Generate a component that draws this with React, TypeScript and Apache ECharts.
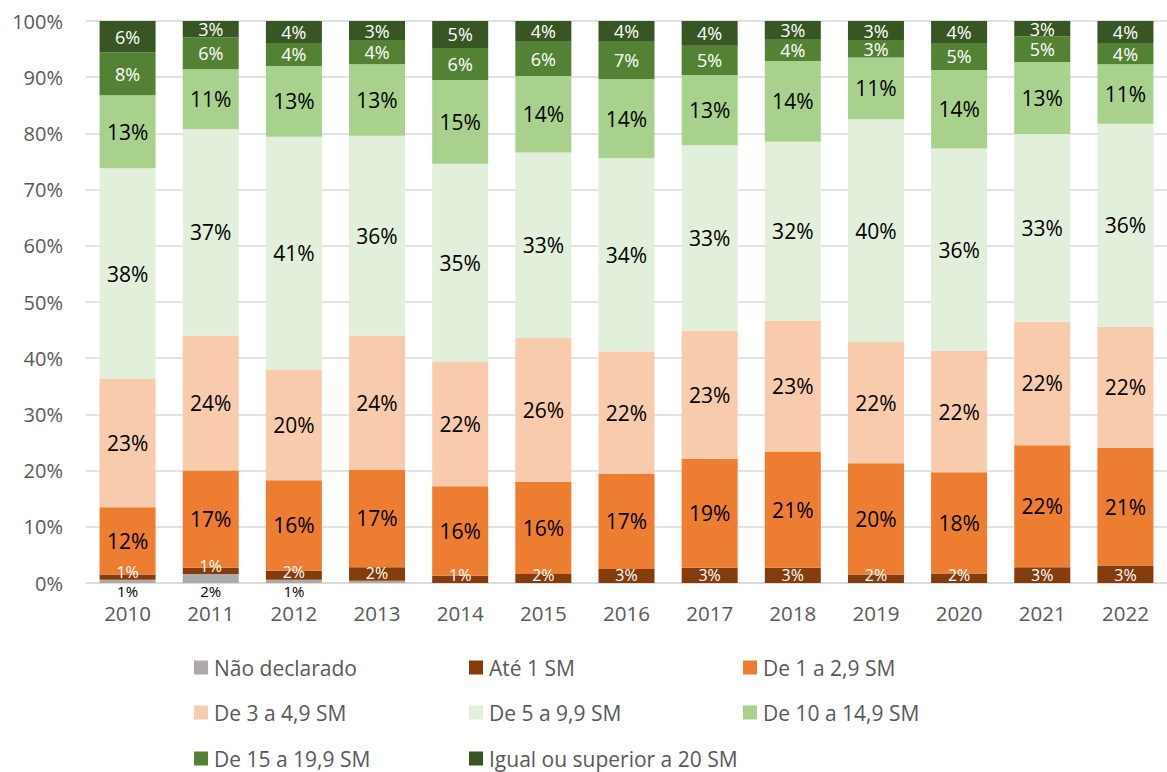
import React, { useEffect, useRef } from "react";
import * as echarts from "echarts";

const years = ["2010", "2011", "2012", "2013", "2014", "2015", "2016", "2017", "2018", "2019", "2020", "2021", "2022"];
const yTicks = [0, 10, 20, 30, 40, 50, 60, 70, 80, 90, 100];

const naoDeclarado = [0.6, 1.6, 0.6, 0.4, 0, 0, 0, 0, 0, 0, 0, 0, 0];
const ate1 = [0.9, 1.1, 1.6, 2.4, 1.3, 1.6, 2.5, 2.7, 2.7, 1.5, 1.7, 2.8, 3.1];
const de1a29 = [12.0, 17.3, 16.1, 17.4, 15.9, 16.4, 16.9, 19.4, 20.7, 19.8, 18.0, 21.7, 20.9];
const de3a49 = [22.8, 24.0, 19.7, 23.8, 22.2, 25.6, 21.8, 22.8, 23.3, 21.6, 21.6, 22.0, 21.6];
const de5a99 = [37.5, 36.8, 41.4, 35.6, 35.2, 33.0, 34.4, 33.0, 31.8, 39.6, 36.0, 33.4, 36.1];
const de10a149 = [13.0, 10.6, 12.6, 12.7, 14.9, 13.6, 14.1, 12.5, 14.4, 11.0, 14.0, 12.8, 10.6];
const de15a199 = [7.6, 5.7, 4.1, 4.3, 5.7, 6.1, 6.6, 5.2, 3.9, 3.1, 4.8, 4.6, 3.8];
const acima20 = [5.6, 2.9, 3.9, 3.4, 4.8, 3.7, 3.7, 4.4, 3.2, 3.4, 3.9, 2.7, 3.9];

const seriesNames = [
  "Não declarado",
  "Até 1 SM",
  "De 1 a 2,9 SM",
  "De 3 a 4,9 SM",
  "De 5 a 9,9 SM",
  "De 10 a 14,9 SM",
  "De 15 a 19,9 SM",
  "Igual ou superior a 20 SM",
];

const FONT = "'Open Sans', 'Noto Sans', sans-serif";

export default function App() {
  const ref = useRef<HTMLDivElement>(null);
  useEffect(() => {
    if (!ref.current) return;
    const chart = echarts.init(ref.current, undefined, { renderer: "svg" });
    const fmt = (p: any) => (p.value >= 0.5 ? Math.round(p.value) + "%" : "");
    const mk = (name: string, data: number[], color: string, labelColor: string, size: number, position: any = "inside", distance = 0, lh = Math.round(size * 0.85)) => ({
      name,
      type: "bar",
      stack: "total",
      data,
      barWidth: 56,
      itemStyle: { color },
      label: {
        show: true,
        position,
        distance,
        formatter: fmt,
        color: labelColor,
        fontSize: size,
        lineHeight: lh,
        fontFamily: FONT,
      },
      emphasis: { disabled: true },
    });
    const colX = [194, 469, 743];
    const rowY = [657, 702, 748];
    const legends = seriesNames.map((n, i) => ({
      left: colX[i % 3],
      top: rowY[Math.floor(i / 3)],
      data: [n],
      itemWidth: 14,
      itemHeight: 14,
      itemGap: 6,
      icon: "rect",
      padding: 0,
      textStyle: { fontSize: 21, color: "#595959", fontFamily: FONT, padding: [0, 0, 0, 1] },
      selectedMode: false,
    }));
    chart.setOption({
      animation: false,
      grid: { left: 86, width: 1086, top: 21, bottom: 189 },
      xAxis: {
        type: "category",
        data: years,
        axisLine: { lineStyle: { color: "#d9d9d9", width: 1.5 } },
        axisTick: { show: false },
        axisLabel: { fontSize: 20.5, color: "#595959", fontFamily: FONT, margin: 19 },
      },
      yAxis: {
        type: "value",
        min: yTicks[0],
        max: yTicks[yTicks.length - 1],
        interval: 10,
        axisLabel: { formatter: "{value}%", fontSize: 20, color: "#595959", fontFamily: FONT, margin: 23 },
        splitLine: { lineStyle: { color: "#d9d9d9", width: 1.5 } },
        axisLine: { show: false },
        axisTick: { show: false },
      },
      legend: legends,
      series: [
        mk(seriesNames[0], naoDeclarado, "#AEAAAA", "#000000", 15, "bottom", 1),
        mk(seriesNames[1], ate1, "#843C0C", "#ffffff", 16, "insideBottom", 1),
        mk(seriesNames[2], de1a29, "#ED7D31", "#000000", 21),
        mk(seriesNames[3], de3a49, "#F8CBAD", "#000000", 21),
        mk(seriesNames[4], de5a99, "#E2EFDA", "#000000", 21),
        mk(seriesNames[5], de10a149, "#A9D18E", "#000000", 21),
        mk(seriesNames[6], de15a199, "#548235", "#ffffff", 18, "inside", 0, 13),
        mk(seriesNames[7], acima20, "#375623", "#ffffff", 18, "inside", 0, 13),
      ],
    });
    return () => chart.dispose();
  }, []);
  return <div ref={ref} style={{ position: "fixed", left: 0, top: 0, width: 1167, height: 772, background: "#fff" }} />;
}
